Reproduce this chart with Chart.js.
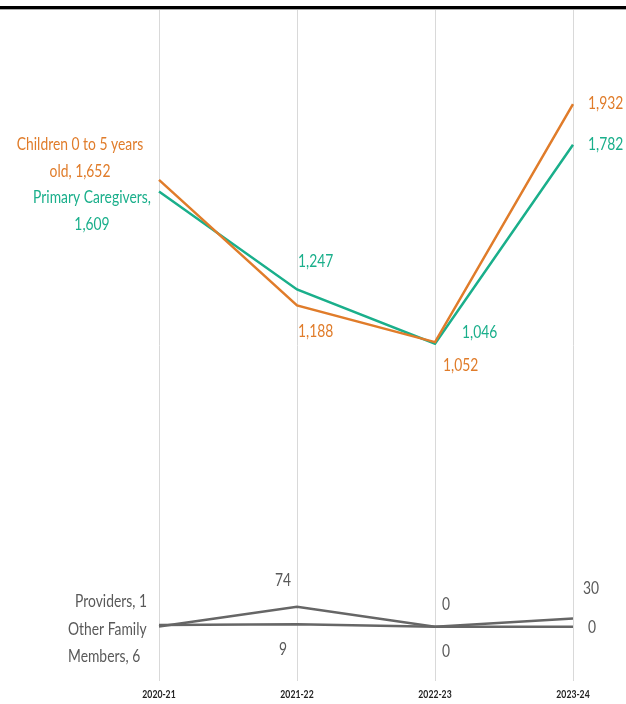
<!DOCTYPE html>
<html>
<head>
<meta charset="utf-8">
<script src="https://cdn.jsdelivr.net/npm/chart.js@4.4.0/dist/chart.umd.min.js"></script>
<style>
  html, body { margin: 0; padding: 0; background: #fff; }
  #wrap { position: relative; width: 626px; height: 704px; }
  #topline { position: absolute; left: 0; top: 6px; width: 626px; height: 3px; background: #000; border-bottom: 1px solid #aaa; }
  canvas { position: absolute; left: 0; top: 0; }
</style>
</head>
<body>
<div id="wrap">
  <canvas id="chart" width="626" height="704"></canvas>
  <div id="topline"></div>
</div>
<script>
// Years
const years = ['2020-21', '2021-22', '2022-23', '2023-24'];

// Series values
const children = [1652, 1188, 1052, 1932];
const caregivers = [1609, 1247, 1046, 1782];
const providers = [1, 74, 0, 30];
const otherFamily = [6, 9, 0, 0];

const seriesNames = ['Children 0 to 5 years old', 'Primary Caregivers', 'Providers', 'Other Family Members'];
const seriesColors = ['#e07c2a', '#1aaf8b', '#666666', '#666666'];
const labelColors = ['#e07c2a', '#1aaf8b', '#595959', '#595959'];

const fmt = v => v.toLocaleString('en-US');
const FONT = 'Lato, "DejaVu Sans", sans-serif';
const SQUEEZE = 0.77; // narrow the text, the original uses a condensed face

// where each label sits relative to its point (dx, dy, alignment, line breaks)
const labelPlace = [
    [
        { dx: -79, dy: -22, align: 'center', lines: v => ['Children 0 to 5 years', 'old, ' + fmt(v)] },
        { dx: 1, dy: 26, align: 'left' },
        { dx: 8, dy: 23, align: 'left' },
        { dx: 15, dy: -1, align: 'left' }
    ],
    [
        { dx: -67, dy: 19, align: 'center', lines: v => ['Primary Caregivers,', fmt(v)] },
        { dx: 1, dy: -28, align: 'left' },
        { dx: 27, dy: -12, align: 'left' },
        { dx: 15, dy: -1, align: 'left' }
    ],
    [
        { dx: -12, dy: -25, align: 'right', lines: v => ['Providers, ' + fmt(v)] },
        { dx: -14, dy: -26, align: 'center' },
        { dx: 11, dy: -23, align: 'center' },
        { dx: 18, dy: -30, align: 'center' }
    ],
    [
        { dx: -91, dy: 18, align: 'left', lines: v => ['Other Family', 'Members, ' + fmt(v)] },
        { dx: -14, dy: 25, align: 'center' },
        { dx: 11, dy: 24, align: 'center' },
        { dx: 15, dy: 0, align: 'left' }
    ]
];

function narrowText(ctx, t, x, y, sx) {
    ctx.save();
    ctx.translate(x, y);
    ctx.scale(sx, 1);
    ctx.fillText(t, 0, 0);
    ctx.restore();
}

const labelPlugin = {
    id: 'pointLabels',
    afterDatasetsDraw(chart) {
        const ctx = chart.ctx;
        ctx.save();
        ctx.font = '18px ' + FONT;
        ctx.textBaseline = 'middle';
        chart.data.datasets.forEach((ds, di) => {
            const meta = chart.getDatasetMeta(di);
            meta.data.forEach((pt, i) => {
                const p = labelPlace[di][i];
                const v = ds.data[i];
                const lines = p.lines ? p.lines(v) : [fmt(v)];
                ctx.fillStyle = labelColors[di];
                ctx.textAlign = p.align;
                const lh = 27;
                const y0 = pt.y + p.dy - (lines.length - 1) * lh / 2;
                lines.forEach((t, k) => narrowText(ctx, t, pt.x + p.dx, y0 + k * lh, SQUEEZE));
            });
        });

        // year labels under the axis, drawn narrow
        const xs = chart.scales.x;
        ctx.font = 'bold 12px ' + FONT;
        ctx.fillStyle = '#222';
        ctx.textAlign = 'center';
        years.forEach((y, i) => narrowText(ctx, y, xs.getPixelForValue(i), xs.top + 13, 0.72));
        ctx.restore();
    }
};

new Chart(document.getElementById('chart'), {
    type: 'line',
    data: {
        labels: years,
        datasets: [children, caregivers, providers, otherFamily].map((d, i) => ({
            label: seriesNames[i],
            data: d,
            borderColor: seriesColors[i],
            borderWidth: 2.5,
            pointRadius: 0,
            fill: false,
            tension: 0
        }))
    },
    options: {
        responsive: false,
        animation: false,
        layout: { padding: { left: 159, right: 53, top: 10, bottom: 0 } },
        plugins: {
            legend: { display: false },
            tooltip: { enabled: false }
        },
        scales: {
            x: {
                offset: false,
                grid: { color: '#d9d9d9', lineWidth: 1, drawTicks: false },
                border: { display: false },
                ticks: {
                    color: 'rgba(0,0,0,0)',
                    padding: 5,
                    font: { family: FONT, size: 11, weight: 'bold' }
                }
            },
            y: {
                display: false,
                min: -200,
                max: 2280
            }
        }
    },
    plugins: [labelPlugin]
});
</script>
</body>
</html>
